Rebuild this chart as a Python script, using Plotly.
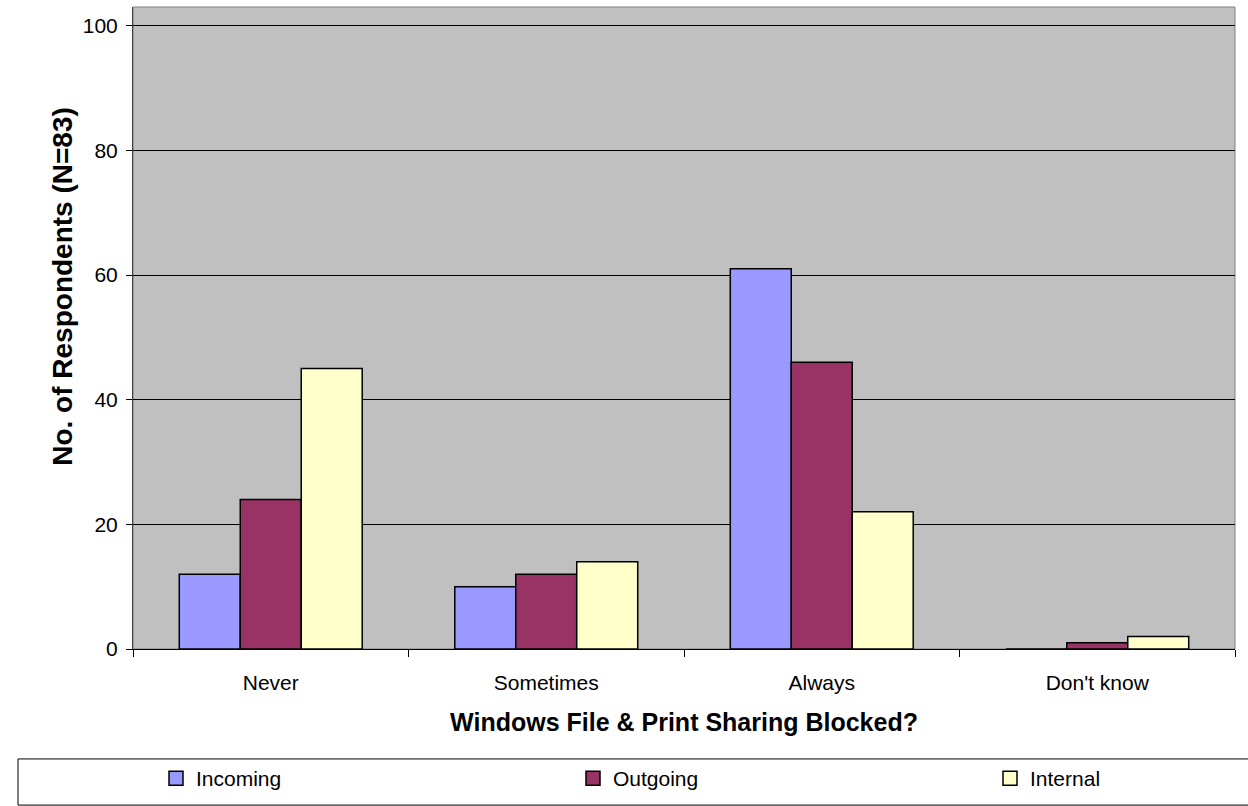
import plotly.graph_objects as go

categories = ["Never", "Sometimes", "Always", "Don't know"]
incoming = [12, 10, 61, 0]
outgoing = [24, 12, 46, 1]
internal = [45, 14, 22, 2]
series_names = ["Incoming", "Outgoing", "Internal"]
series_colors = ["#9999FF", "#993366", "#FFFFCC"]
y_ticks = [0, 20, 40, 60, 80, 100]

FONT = "Liberation Sans, Arial, sans-serif"

# plot area in pixels
L, R, T, B = 133, 1235, 7, 661
W, H = R - L, B - T

def px_x(p):
    return (p - L) / W

def px_y(p):
    return (B - p) / H

legend_ids = ["legend", "legend2", "legend3"]
legend_left_px = [156, 573, 990]

fig = go.Figure()
for name, vals, col in zip(series_names, [incoming, outgoing, internal], series_colors):
    fig.add_trace(go.Bar(
        x=categories, y=vals, name=name, showlegend=False,
        marker=dict(color=col, line=dict(color="black", width=1.5)),
    ))
# legend keys (square swatches like the original)
for name, col, lid in zip(series_names, series_colors, legend_ids):
    fig.add_trace(go.Scatter(
        x=[None], y=[None], name=name, legend=lid, mode="markers",
        marker=dict(symbol="square", size=14, color=col, line=dict(color="black", width=1.5)),
        hoverinfo="skip",
    ))

legend_style = {}
for lid, lx in zip(legend_ids, legend_left_px):
    legend_style[lid] = dict(
        orientation="h", x=px_x(lx), xanchor="left", y=px_y(793), yanchor="middle",
        font=dict(family=FONT, size=21, color="black"),
        bgcolor="rgba(0,0,0,0)", borderwidth=0,
        itemclick=False, itemdoubleclick=False,
    )

fig.update_layout(
    width=1248, height=806, autosize=False,
    margin=dict(l=L, r=1248 - R, t=T, b=806 - B),
    paper_bgcolor="white", plot_bgcolor="#C0C0C0",
    barmode="group", bargap=0.336, bargroupgap=0,
    font=dict(family=FONT, size=21, color="black"),
    showlegend=True,
    **legend_style,
    xaxis=dict(
        type="category", showgrid=False, showline=True, linecolor="black", linewidth=1,
        ticks="outside", tickson="boundaries", ticklen=7, tickcolor="black",
        ticklabelstandoff=15, automargin=False,
        title=dict(text="<b>Windows File & Print Sharing Blocked?</b>",
                   font=dict(family=FONT, size=25), standoff=20),
        zeroline=False,
    ),
    yaxis=dict(
        range=[0, 103], tickvals=y_ticks, showgrid=True, gridcolor="black", gridwidth=1,
        showline=True, linecolor="#404040", linewidth=1,
        ticks="outside", ticklen=6, tickcolor="black", ticklabelstandoff=4,
        zeroline=False, automargin=False,
    ),
    annotations=[
        dict(text="<b>No. of Respondents (N=83)</b>", textangle=-90,
             xref="paper", yref="paper", x=px_x(63), y=px_y(292),
             xanchor="center", yanchor="middle", showarrow=False,
             font=dict(family=FONT, size=28, color="black")),
    ],
    shapes=[
        dict(type="rect", xref="paper", yref="paper", x0=0, x1=1, y0=0, y1=1,
             line=dict(color="#808080", width=1), fillcolor="rgba(0,0,0,0)", layer="below"),
        dict(type="rect", xref="paper", yref="paper",
             x0=px_x(18), x1=px_x(1260), y0=px_y(773), y1=px_y(820),
             line=dict(color="black", width=1), fillcolor="rgba(0,0,0,0)"),
    ],
)

fig.write_html(
    "out.html",
    config={"displayModeBar": False},
    post_script="document.body.style.margin='0';document.body.style.overflow='hidden';",
)
